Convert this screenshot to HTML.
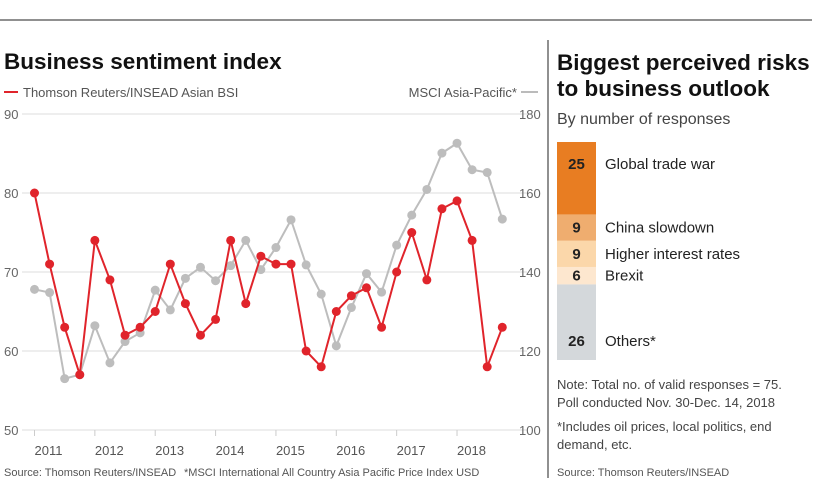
<!DOCTYPE html>
<html><head><meta charset="utf-8"><style>
body{margin:0;background:#fff;font-family:"Liberation Sans",sans-serif;}
svg text{font-family:"Liberation Sans",sans-serif;}
</style></head><body>
<svg id="s" width="827" height="491" xmlns="http://www.w3.org/2000/svg">
<line x1="0" y1="20" x2="812" y2="20" stroke="#222" stroke-width="1"/>
<line x1="548" y1="40" x2="548" y2="478" stroke="#222" stroke-width="1"/>
<text x="4" y="69" font-size="22.5" font-weight="bold" fill="#111">Business sentiment index</text>
<line x1="4" y1="92" x2="18" y2="92" stroke="#e0242b" stroke-width="2"/>
<text x="23" y="97" font-size="13" fill="#555">Thomson Reuters/INSEAD Asian BSI</text>
<text x="517" y="97" font-size="13" fill="#555" text-anchor="end">MSCI Asia-Pacific*</text>
<line x1="521" y1="92" x2="538" y2="92" stroke="#bbb" stroke-width="2"/>
<g id="grid"></g><g id="plot"></g>
<text x="4" y="476" font-size="11" fill="#555">Source: Thomson Reuters/INSEAD</text>
<text x="184" y="476" font-size="11" fill="#555">*MSCI International All Country Asia Pacific Price Index USD</text>
<text x="557" y="70" font-size="22.5" font-weight="bold" fill="#111">Biggest perceived risks</text>
<text x="557" y="96" font-size="22.5" font-weight="bold" fill="#111">to business outlook</text>
<text x="557" y="124" font-size="16" fill="#444">By number of responses</text>
<g id="bar"></g>
<text x="557" y="389" font-size="13" fill="#444">Note: Total no. of valid responses = 75.</text>
<text x="557" y="407" font-size="13" fill="#444">Poll conducted Nov. 30-Dec. 14, 2018</text>
<text x="557" y="431" font-size="13" fill="#444">*Includes oil prices, local politics, end</text>
<text x="557" y="449" font-size="13" fill="#444">demand, etc.</text>
<text x="557" y="476" font-size="11" fill="#555">Source: Thomson Reuters/INSEAD</text>
</svg>
<script>
const bsi=[80,71,63,57,74,69,62,63,65,71,66,62,64,74,66,72,71,71,60,58,65,67,68,63,70,75,69,78,79,74,58,63];
const msci=[135.6,134.8,113,114,126.4,117,122.4,124.6,135.4,130.4,138.4,141.2,137.8,141.6,148,140.6,146.2,153.2,141.8,134.4,121.3,131,139.6,134.9,146.8,154.4,160.9,170.1,172.6,165.9,165.2,153.4];
const leftTicks=[50,60,70,80,90];
const rightTicks=[100,120,140,160,180];
const years=[2011,2012,2013,2014,2015,2016,2017,2018];
const riskLabels=["Global trade war","China slowdown","Higher interest rates","Brexit","Others*"];
const riskValues=[25,9,9,6,26];
const riskColors=["#e87d22","#efad6f","#fbd7aa","#fde7cf","#d4d8db"];
const NS="http://www.w3.org/2000/svg";
const X0=34.5,STEP=15.09,XL=22,XR=527;
const yL=v=>430-(v-50)*7.9;
const yR=v=>430-(v-100)*3.95;
const xq=i=>X0+i*STEP;
function mk(tag,attrs,parent,txt){const e=document.createElementNS(NS,tag);for(const k in attrs)e.setAttribute(k,attrs[k]);if(txt!==undefined)e.textContent=txt;parent.appendChild(e);return e;}
const grid=document.getElementById('grid'),plot=document.getElementById('plot');
leftTicks.forEach((t,i)=>{
 const l=mk('line',{x1:XL,x2:XR,y1:yL(t),y2:yL(t),stroke:'#ddd','stroke-width':1},grid);
 
 
 const a=mk('text',{x:4,y:yL(t)+5,'font-size':13,fill:'#666'},grid,t);
 
 
 const r=rightTicks[i];
 const b=mk('text',{x:519,y:yR(r)+5,'font-size':13,fill:'#666'},grid,r);
 
 
});
years.forEach((y,i)=>{
 const x=xq(i*4);
 const t=mk('line',{x1:x,x2:x,y1:430,y2:436,stroke:'#ccc'},grid);
 
 
 const l=mk('text',{x:x,y:455,'font-size':13,fill:'#555','text-anchor':'start'},grid,y);
 
 
});
function series(vals,ys,color,name,r){
 const p=mk('polyline',{points:vals.map((v,i)=>xq(i)+','+ys(v)).join(' '),fill:'none',stroke:color,'stroke-width':2},plot);
 
 
 vals.forEach((v,i)=>{
  const c=mk('circle',{cx:xq(i),cy:ys(v),r:r,fill:color},plot);
  
  
 });
}
series(msci,yR,'#bdbdbd','msci',4.5);
series(bsi,yL,'#e0242b','bsi',4.5);
const bar=document.getElementById('bar');
const BT=142,BH=218,tot=riskValues.reduce((a,b)=>a+b,0);
let acc=0;
riskValues.forEach((v,i)=>{
 const y0=BT+acc/tot*BH,h=v/tot*BH;acc+=v;
 const r=mk('rect',{x:557,y:y0,width:39,height:h,fill:riskColors[i]},bar);
 
 
 let ty=y0+h/2+5;
 if(v>20) ty=(i===0)?y0+27:y0+h-14;
 const n=mk('text',{x:576.5,y:ty,'font-size':15,'font-weight':'bold',fill:'#222','text-anchor':'middle'},bar,v);
 
 
 const l=mk('text',{x:605,y:ty,'font-size':15,fill:'#222'},bar,riskLabels[i]);
 
 
});
</script>
</body></html>
